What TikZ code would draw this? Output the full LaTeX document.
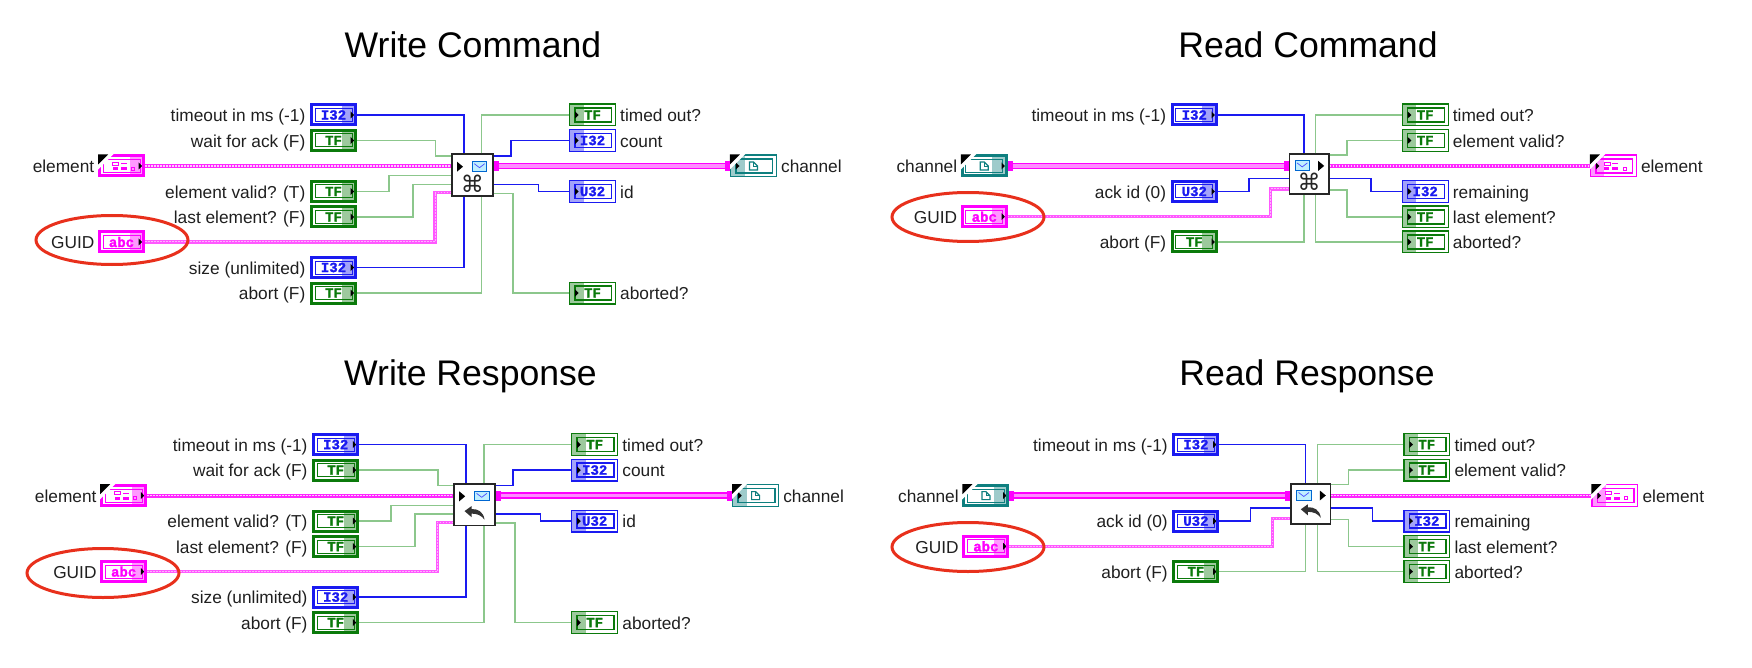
\documentclass[tikz,border=0pt]{standalone}
\usepackage{fontspec}
\setmainfont{Liberation Sans}
\newfontfamily\termfont{Liberation Mono}[UprightFont=* Bold,FakeBold=1.6]
\newfontfamily\glyphfont{DejaVu Sans}
\usetikzlibrary{positioning,shapes.geometric}

\definecolor{intblue}{HTML}{1A1AF0}
\definecolor{boolgreen}{HTML}{0B7A0B}
\definecolor{boolwire}{HTML}{8CC78C}
\definecolor{strpink}{HTML}{FF00FF}
\definecolor{refteal}{HTML}{0E7F7F}
\definecolor{ringred}{HTML}{E8301C}

\tikzset{
  ctlterm/.style={draw=#1,line width=3pt,fill=white,text=#1,inner sep=0pt,
    minimum width=44pt,minimum height=20pt,font=\termfont\fontsize{14}{14}\selectfont,
    path picture={
      \draw[#1,line width=1pt] ([shift={(3.5,3.5)}]path picture bounding box.north west)
        rectangle ([shift={(-3.5,-3.5)}]path picture bounding box.south east);
      \fill[#1,opacity=.4] ([shift={(-14,0)}]path picture bounding box.north east)
        rectangle (path picture bounding box.south east);
      \fill[black] ([shift={(-4.8,-3.5)}]path picture bounding box.east) -- ++(3.4,3.5) -- ++(-3.4,3.5) -- cycle;
    }},
  indterm/.style={draw=#1,line width=1.2pt,fill=white,text=#1,inner sep=0pt,
    minimum width=45.8pt,minimum height=21.8pt,font=\termfont\fontsize{14}{14}\selectfont,
    path picture={
      \draw[#1,line width=1.5pt] ([shift={(5.4,3.8)}]path picture bounding box.north west)
        rectangle ([shift={(-3.7,-3.8)}]path picture bounding box.south east);
      \fill[#1,opacity=.4] (path picture bounding box.north west)
        rectangle ([shift={(14,0)}]path picture bounding box.south west);
      \fill[black] ([shift={(5.4,-3.5)}]path picture bounding box.west) -- ++(3.6,3.5) -- ++(-3.6,3.5) -- cycle;
    }},
  lab/.style={inner sep=0pt,text=black!88,font=\fontsize{17.3}{20}\selectfont,text height=16.4pt,text depth=3pt},
  paneltitle/.style={inner sep=0pt,font=\fontsize{35.6}{40}\selectfont},
  vibox/.style={draw=black!85,line width=1.6pt,fill=white,inner sep=0pt},
  guidring/.style={ellipse,draw=ringred,line width=3pt,inner sep=0pt,minimum width=152pt,minimum height=49pt},
  wiretab/.style={fill=strpink,inner sep=0pt,outer sep=0pt,minimum width=5pt,minimum height=10pt},
  intwire/.style={draw=intblue,line width=1.5pt},
  boolw/.style={draw=boolwire,line width=1.5pt},
  strwire/.style={draw=strpink!65,line width=3.4pt,postaction={draw=white!70!strpink,line width=1pt,dash pattern=on 1.5pt off 1.5pt}},
  elwire/.style={draw=strpink!85,line width=4pt,postaction={draw=white!80!strpink,line width=1.1pt,dash pattern=on 1.5pt off 1.5pt}},
  clusterwire/.style={draw=strpink,line width=1.6pt,double=strpink!45,double distance=3.6pt},
}

% corner flag of a reference terminal
\newcommand{\refcorner}[1]{
  \fill[white] ([shift={(-1,-1)}]#1.north west) -- ++(17,0) -- ++(-17,17) -- cycle;
  \fill[black] (#1.north west) -- ++(10,0) -- ++(-10,10) -- cycle;
}
% small squares in a cluster terminal
\newcommand{\clustermark}[1]{
  \begin{scope}[shift={(#1.center)}]
  \draw[strpink,line width=.9pt] (-9,-4) rectangle (-3,-1);
  \fill[strpink] (-1,-3) rectangle (5,-1.5);
  \fill[strpink] (-9,1) rectangle (-4,4);
  \fill[strpink] (-1,1) rectangle (5,4);
  \draw[strpink,line width=.9pt] (10,1.2) rectangle (13,4);
  \end{scope}
}
% page in a channel terminal
\newcommand{\pagemark}[1]{
  \begin{scope}[shift={(#1.center)}]
  \draw[refteal,line width=1.2pt] (-4,-4) -- (0,-4) -- (4,0) -- (4,4) -- (-4,4) -- cycle;
  \draw[refteal,line width=.8pt] (0,-4) -- (0,0) -- (4,0);
  \end{scope}
}
\newcommand{\envmark}[2]{
  \draw[black!30!blue!60!cyan,line width=.8pt,fill=blue!25!cyan!25] (#1,#2) rectangle ++(14.4,9.4);
  \draw[blue!70,line width=.7pt] (#1+2,#2+2) -- (#1+7.2,#2+6) -- (#1+12.4,#2+2);
}
\newcommand{\cmdmark}[1]{
  \node[inner sep=0pt,text=black!85] (glyph) at (0,#1) {\glyphfont\fontsize{23}{23}\selectfont ⌘};
}
\newcommand{\replymark}[1]{
  \fill[black!80] (-10,#1-1.5) -- (-3,#1-6.5) -- (-3,#1-3.5) .. controls (3,#1-4) and (9,#1-1) .. (10,#1+7)
    .. controls (7,#1+3) and (3,#1+1) .. (-3,#1+1) -- (-3,#1+4.5) -- cycle;
}

\newcommand{\writepanel}[1]{
  \node[ctlterm=intblue] (timeout) at (333.5,115) {I32};
  \node[lab,left=4.5pt of timeout] (timeoutlab) {timeout in ms (-1)};
  \node[ctlterm=boolgreen] (waitack) at (333.5,140.5) {TF};
  \node[lab,left=4.5pt of waitack] (waitacklab) {wait for ack (F)};
  \node[ctlterm=strpink] (elem) at (121.5,166) {};
  \node[lab,left=3.5pt of elem] (elemlab) {element};
  \node[ctlterm=boolgreen] (valid) at (333.5,191.5) {TF};
  \node[lab,left=4.5pt of valid] (validlab) {element valid? (T)};
  \node[ctlterm=boolgreen] (last) at (333.5,217) {TF};
  \node[lab,left=4.5pt of last] (lastlab) {last element? (F)};
  \node[ctlterm=strpink] (guid) at (121.5,242) {abc};
  \node[lab,left=3.5pt of guid] (guidlab) {GUID};
  \node[ctlterm=intblue] (size) at (333.5,267.5) {I32};
  \node[lab,left=4.5pt of size] (sizelab) {size (unlimited)};
  \node[ctlterm=boolgreen] (abort) at (333.5,293) {TF};
  \node[lab,left=4.5pt of abort] (abortlab) {abort (F)};
  \node[indterm=boolgreen] (timedout) at (592.5,115) {TF};
  \node[lab,right=4pt of timedout] (timedoutlab) {timed out?};
  \node[indterm=intblue] (count) at (592.5,140.5) {I32};
  \node[lab,right=4pt of count] (countlab) {count};
  \node[indterm=refteal] (chan) at (753.4,166) {};
  \node[lab,right=4pt of chan] (chanlab) {channel};
  \node[indterm=intblue] (msgid) at (592.5,191.5) {U32};
  \node[lab,right=4pt of msgid] (msgidlab) {id};
  \node[indterm=boolgreen] (aborted) at (592.5,293) {TF};
  \node[lab,right=4pt of aborted] (abortedlab) {aborted?};
  \refcorner{elem}
  \refcorner{chan}
  \clustermark{elem}
  \pagemark{chan}
  \node[vibox,minimum width=41.2pt,minimum height=41.8pt] (vi) at (472.3,175) {};
  \begin{scope}[shift={(vi.center)}]
  \fill[black] (-15.3,-13.3) -- (-9.3,-8.3) -- (-15.3,-3.3) -- cycle;
  \envmark{0}{-13.3}
  #1
  \end{scope}
  \node[wiretab,anchor=west] (tabl) at ([yshift=9pt]vi.east) {};
  \node[wiretab,anchor=east] (tabr) at (chan.west) {};
  \draw[intwire] (timeout.east) -| ([xshift=-8.3pt]vi.north);
  \draw[intwire] (size.east) -| ([xshift=-8.3pt]vi.south);
  \draw[boolw] (waitack.east) -| (435.7,156) -- ([yshift=19pt]vi.west);
  \draw[boolw] (valid.east) -| (389,175.7) -- ([yshift=-.7pt]vi.west);
  \draw[boolw] (last.east) -| (413,184.3) -- ([yshift=-9.3pt]vi.west);
  \draw[boolw] (abort.east) -| ([xshift=9.4pt]vi.south);
  \draw[boolw] ([xshift=9.4pt]vi.north) |- (timedout.west);
  \draw[boolw] ([yshift=-18.3pt]vi.east) -| (513,293) -- (aborted.west);
  \draw[elwire] (elem.east) -- ([yshift=9pt]vi.west);
  \draw[strwire] (guid.east) -| (435,192.7) -- ([yshift=-17.7pt]vi.west);
  \draw[intwire] ([yshift=19pt]vi.east) -| (511,140.5) -- (count.west);
  \draw[intwire] ([yshift=-9.3pt]vi.east) -| (538.3,191.5) -- (msgid.west);
  \draw[clusterwire] (tabl.east) -- (tabr.west);
}

\newcommand{\readpanel}[1]{
  \node[ctlterm=intblue] (timeout) at (1194.3,115) {I32};
  \node[lab,left=4.5pt of timeout] (timeoutlab) {timeout in ms (-1)};
  \node[ctlterm=refteal] (chan) at (984.3,166) {};
  \node[lab,left=3.5pt of chan] (chanlab) {channel};
  \node[ctlterm=intblue] (ackid) at (1194.3,191.5) {U32};
  \node[lab,left=4.5pt of ackid] (ackidlab) {ack id (0)};
  \node[ctlterm=strpink] (guid) at (984.3,216.7) {abc};
  \node[lab,left=3.5pt of guid] (guidlab) {GUID};
  \node[ctlterm=boolgreen] (abort) at (1194.3,242) {TF};
  \node[lab,left=4.5pt of abort] (abortlab) {abort (F)};
  \node[indterm=boolgreen] (timedout) at (1425.2,115) {TF};
  \node[lab,right=4pt of timedout] (timedoutlab) {timed out?};
  \node[indterm=boolgreen] (valid) at (1425.2,140.5) {TF};
  \node[lab,right=4pt of valid] (validlab) {element valid?};
  \node[indterm=strpink] (elem) at (1613.3,166) {};
  \node[lab,right=4pt of elem] (elemlab) {element};
  \node[indterm=intblue] (remain) at (1425.2,191.5) {I32};
  \node[lab,right=4pt of remain] (remainlab) {remaining};
  \node[indterm=boolgreen] (last) at (1425.2,217) {TF};
  \node[lab,right=4pt of last] (lastlab) {last element?};
  \node[indterm=boolgreen] (aborted) at (1425.2,242) {TF};
  \node[lab,right=4pt of aborted] (abortedlab) {aborted?};
  \refcorner{chan}
  \refcorner{elem}
  \pagemark{chan}
  \clustermark{elem}
  \node[vibox,minimum width=39.4pt,minimum height=40.2pt] (vi) at (1309.2,174.2) {};
  \begin{scope}[shift={(vi.center)}]
  \fill[black] (9,-13.3) -- (15,-8.3) -- (9,-3.3) -- cycle;
  \envmark{-14.2}{-13.3}
  #1
  \end{scope}
  \node[wiretab,anchor=west] (tabl) at (chan.east) {};
  \node[wiretab,anchor=east] (tabr) at ([yshift=8.2pt]vi.west) {};
  \draw[intwire] (timeout.east) -| ([xshift=-5.2pt]vi.north);
  \draw[boolw] (abort.east) -| ([xshift=-5.2pt]vi.south);
  \draw[intwire] (ackid.east) -| (1249,178.3) -- ([yshift=-4.1pt]vi.west);
  \draw[strwire] (guid.east) -| (1270.7,189) -- ([yshift=-14.8pt]vi.west);
  \draw[boolw] ([xshift=6.5pt]vi.north) |- (timedout.west);
  \draw[boolw] ([xshift=6.5pt]vi.south) |- (aborted.west);
  \draw[boolw] ([yshift=19.2pt]vi.east) -| (1347,140.5) -- (valid.west);
  \draw[intwire] ([yshift=-4.1pt]vi.east) -| (1371,191.5) -- (remain.west);
  \draw[boolw] ([yshift=-15.8pt]vi.east) -| (1347,217) -- (last.west);
  \draw[elwire] ([yshift=8.2pt]vi.east) -- (elem.west);
  \draw[clusterwire] (tabl.east) -- (tabr.west);
}

\begin{document}
\begin{tikzpicture}[x=1pt,y=-1pt]
\useasboundingbox (0,0) rectangle (1752,668);
\begin{scope}[name prefix=wc-]
\node[paneltitle] (title) at (473,45) {Write Command};
\writepanel{\cmdmark{9}}
\node[guidring] (ring) at (112,240) {};
\end{scope}
\begin{scope}[shift={(2.2,329.6)},name prefix=wr-]
\node[paneltitle] (title) at (468.3,46.6) {Write Response};
\writepanel{\replymark{8}}
\node[guidring] (ring) at (100.8,243.4) {};
\end{scope}
\begin{scope}[name prefix=rc-]
\node[paneltitle] (title) at (1308,45) {Read Command};
\readpanel{\cmdmark{7.5}}
\node[guidring] (ring) at (968,217) {};
\end{scope}
\begin{scope}[shift={(1.6,329.6)},name prefix=rr-]
\node[paneltitle] (title) at (1305.4,46.6) {Read Response};
\readpanel{\replymark{7}}
\node[guidring] (ring) at (966.4,217.4) {};
\end{scope}
\end{tikzpicture}
\end{document}
